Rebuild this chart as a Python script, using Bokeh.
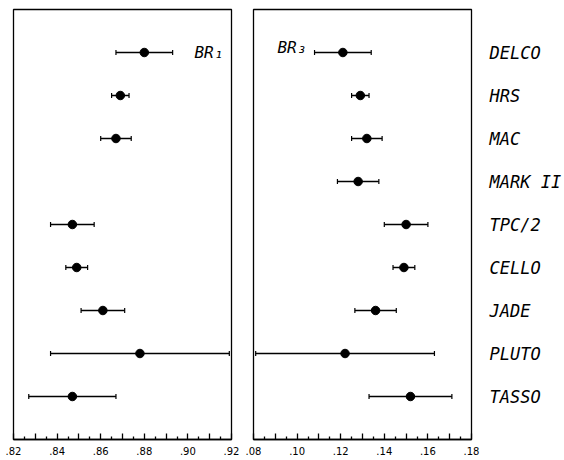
import math
from bokeh.plotting import figure
from bokeh.models import Range1d, FixedTicker, ColumnDataSource
from bokeh.layouts import row
from bokeh.core.properties import value
from bokeh.embed import file_html
from bokeh.resources import INLINE

nan = float("nan")

# ---- data ----
experiments = ["DELCO", "HRS", "MAC", "MARK II", "TPC/2", "CELLO", "JADE", "PLUTO", "TASSO"]
br1_values = [0.880, 0.869, 0.867, nan, 0.847, 0.849, 0.861, 0.878, 0.847]
br1_errors = [0.013, 0.004, 0.007, nan, 0.010, 0.005, 0.010, 0.041, 0.020]
br3_values = [0.121, 0.129, 0.132, 0.128, 0.150, 0.149, 0.136, 0.122, 0.152]
br3_errors = [0.013, 0.004, 0.007, 0.0095, 0.010, 0.005, 0.0095, 0.041, 0.019]

br1_ticks = [0.82, 0.83, 0.84, 0.85, 0.86, 0.87, 0.88, 0.89, 0.90, 0.91, 0.92]
br1_tick_labels = [".82", "", ".84", "", ".86", "", ".88", "", ".90", "", ".92"]
br1_minor = [0.825, 0.835, 0.845, 0.855, 0.865, 0.875, 0.885, 0.895, 0.905, 0.915]
br3_ticks = [0.08, 0.09, 0.10, 0.11, 0.12, 0.13, 0.14, 0.15, 0.16, 0.17, 0.18]
br3_tick_labels = [".08", "", ".10", "", ".12", "", ".14", "", ".16", "", ".18"]
br3_minor = [0.085, 0.095, 0.105, 0.115, 0.125, 0.135, 0.145, 0.155, 0.165, 0.175]

# row positions: experiment i sits on row i+1, top to bottom
rows = list(range(1, len(experiments) + 1))
y_range = Range1d(start=len(experiments) + 1, end=0)

FONT = "DejaVu Sans Mono"


def make_panel(vals, errs, xr, ticks, tick_labels, minor, label, label_x, label_dy,
               width, border_left, border_right, right_axis):
    p = figure(width=width, height=460, x_range=Range1d(*xr), y_range=y_range,
               output_backend="svg", toolbar_location=None,
               y_axis_location="right" if right_axis else None,
               min_border_left=border_left, min_border_right=border_right,
               min_border_top=9, min_border_bottom=21)
    p.xgrid.visible = False
    p.ygrid.visible = False
    p.outline_line_color = "black"
    p.outline_line_width = 1.3
    p.background_fill_color = "white"
    p.border_fill_color = "white"

    lo = [v - e for v, e in zip(vals, errs)]
    hi = [v + e for v, e in zip(vals, errs)]
    src = ColumnDataSource(dict(y=rows, v=vals, lo=lo, hi=hi))
    p.segment(x0="lo", y0="y", x1="hi", y1="y", source=src, line_color="black", line_width=1.3)
    p.scatter(x="lo", y="y", source=src, marker="dash", angle=math.pi / 2, size=5,
              line_color="black", line_width=1.2)
    p.scatter(x="hi", y="y", source=src, marker="dash", angle=math.pi / 2, size=5,
              line_color="black", line_width=1.2)
    p.scatter(x="v", y="y", source=src, marker="circle", size=8.5,
              fill_color="black", line_color="black")

    p.text(x=[label_x], y=[rows[0]], text=[label], text_font=value(FONT),
           text_font_style="italic", text_font_size="16px", text_color="black",
           text_align="left", text_baseline="middle", y_offset=label_dy)

    ax = p.xaxis[0]
    ax.ticker = FixedTicker(ticks=ticks, minor_ticks=minor)
    ax.major_label_overrides = {t: s for t, s in zip(ticks, tick_labels)}
    ax.major_tick_in = 6
    ax.major_tick_out = 0
    ax.minor_tick_in = 3
    ax.minor_tick_out = 0
    ax.major_tick_line_color = "black"
    ax.minor_tick_line_color = "black"
    ax.major_tick_line_width = 1.3
    ax.minor_tick_line_width = 1.3
    ax.axis_line_color = "black"
    ax.axis_line_width = 1.3
    ax.major_label_standoff = 7
    ax.major_label_text_font = "DejaVu Sans"
    ax.major_label_text_font_size = "10px"
    ax.major_label_text_color = "black"

    if right_axis:
        yax = p.yaxis[0]
        yax.ticker = FixedTicker(ticks=rows, minor_ticks=[])
        yax.major_label_overrides = {r: name for r, name in zip(rows, experiments)}
        yax.major_tick_line_color = None
        yax.minor_tick_line_color = None
        yax.axis_line_color = None
        yax.major_label_standoff = 12
        yax.major_label_text_font = FONT
        yax.major_label_text_font_style = "italic"
        yax.major_label_text_font_size = "17px"
        yax.major_label_text_color = "black"
    return p


p1 = make_panel(br1_values, br1_errors, (0.82, 0.92), br1_ticks, br1_tick_labels, br1_minor,
                "BR\u2081", 0.903, 0, 243, 13, 12, False)
p2 = make_panel(br3_values, br3_errors, (0.08, 0.18), br3_ticks, br3_tick_labels, br3_minor,
                "BR\u2083", 0.091, -5, 321, 10, 93, True)

layout = row(p1, p2)
open("out.html", "w").write(file_html(layout, INLINE))
